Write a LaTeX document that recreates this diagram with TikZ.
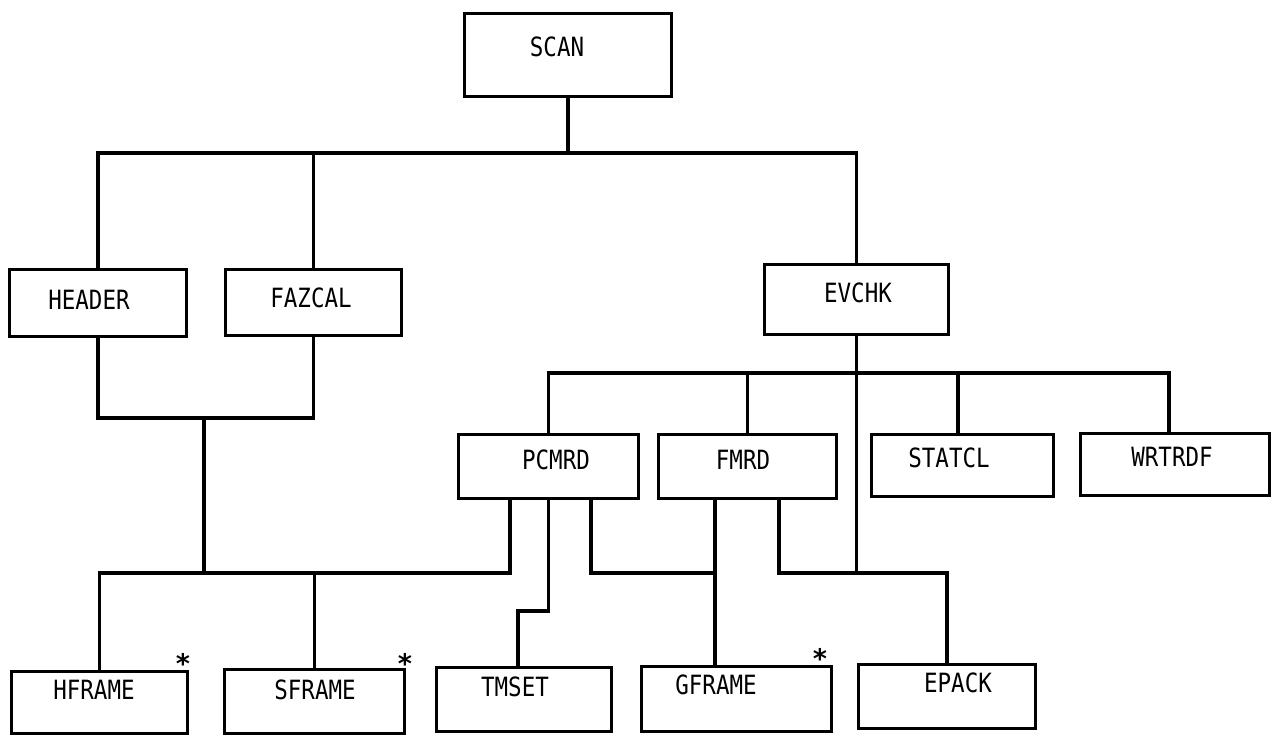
\documentclass[tikz,border=0pt]{standalone}
\usepackage{fontspec}
\newfontfamily\labfont[FakeStretch=0.85]{DejaVu Sans Mono}
\newfontfamily\starfont{DejaVu Sans Mono Bold}
\begin{document}
\begin{tikzpicture}[x=1pt,y=-1pt,
  box/.style={draw=black,line width=3.5pt,inner sep=0pt,fill=none},
  conn/.style={draw=black,line width=3.1pt,line cap=rect},
  lab/.style={inner sep=0pt,font=\labfont\fontsize{26.5}{30}\selectfont},
  starmark/.style={inner sep=0pt,anchor=base,font=\starfont\fontsize{27}{30}\selectfont}]
\useasboundingbox[fill=white] (0,0) rectangle (1279,736);
% boxes (outer edges measured, minus line width)
\node[box,minimum width=207pt,minimum height=83pt] (SCAN)   at (568,55) {};
\node[box,minimum width=177pt,minimum height=67pt] (HEADER) at (98,303) {};
\node[box,minimum width=176pt,minimum height=66pt] (FAZCAL) at (313.5,302.5) {};
\node[box,minimum width=184pt,minimum height=70pt] (EVCHK)  at (856.5,299.5) {};
\node[box,minimum width=180pt,minimum height=64pt] (PCMRD)  at (548.5,466.5) {};
\node[box,minimum width=178pt,minimum height=64pt] (FMRD)   at (747.5,466.5) {};
\node[box,minimum width=182pt,minimum height=62pt] (STATCL) at (962.5,465.5) {};
\node[box,minimum width=189pt,minimum height=62pt] (WRTRDF) at (1175,464.5) {};
\node[box,minimum width=176pt,minimum height=62pt] (HFRAME) at (99.5,702.5) {};
\node[box,minimum width=180pt,minimum height=64pt] (SFRAME) at (314.5,701.5) {};
\node[box,minimum width=175pt,minimum height=64pt] (TMSET)  at (524,699.5) {};
\node[box,minimum width=190pt,minimum height=65pt] (GFRAME) at (736.5,699) {};
\node[box,minimum width=177pt,minimum height=64pt] (EPACK)  at (947,696.5) {};
% labels
\node[lab] (tSCAN)   at (557,47)   {SCAN};
\node[lab] (tHEADER) at (89,300)   {HEADER};
\node[lab] (tFAZCAL) at (311,298)  {FAZCAL};
\node[lab] (tEVCHK)  at (858,293)  {EVCHK};
\node[lab] (tPCMRD)  at (556,460)  {PCMRD};
\node[lab] (tFMRD)   at (743,460)  {FMRD};
\node[lab] (tSTATCL) at (949,458)  {STATCL};
\node[lab] (tWRTRDF) at (1172,457) {WRTRDF};
\node[lab] (tHFRAME) at (94,690)   {HFRAME};
\node[lab] (tSFRAME) at (315,690)  {SFRAME};
\node[lab] (tTMSET)  at (515,687)  {TMSET};
\node[lab] (tGFRAME) at (716,685)  {GFRAME};
\node[lab] (tEPACK)  at (958,683)  {EPACK};
% stars
\node[starmark] (sH) at (183,673) {*};
\node[starmark] (sS) at (405,673) {*};
\node[starmark] (sG) at (820,668) {*};
% junction coordinates
\coordinate (jA) at (566,153);
\coordinate (jB) at (204,418);
\coordinate (jC) at (204,573);
\coordinate (jD) at (715,573);
\coordinate (jE) at (856,373);
\coordinate (pc1) at ([xshift=-38.5pt]PCMRD.south);
\coordinate (pc3) at ([xshift=42.5pt]PCMRD.south);
\coordinate (kTM) at (548,611);
\coordinate (tm)  at ([xshift=-6pt]TMSET.north);
\coordinate (fm1) at ([xshift=-32.5pt]FMRD.south);
\coordinate (fm2) at ([xshift=31.5pt]FMRD.south);
\coordinate (st)  at ([xshift=-4.5pt]STATCL.north);
\coordinate (wr)  at ([xshift=-6pt]WRTRDF.north);
% connectors
\draw[conn] (SCAN.south) -- (SCAN.south |- jA);
\draw[conn] (HEADER.north) |- (EVCHK.north |- jA) -- (EVCHK.north);
\draw[conn] (FAZCAL.north) -- (FAZCAL.north |- jA);
\draw[conn] (HEADER.south) |- (FAZCAL.south |- jB) -- (FAZCAL.south);
\draw[conn] (jB) -- (jC);
\draw[conn] (HFRAME.north) |- (pc1 |- jC) -- (pc1);
\draw[conn] (SFRAME.north) -- (SFRAME.north |- jC);
\draw[conn] (PCMRD.south) -- (PCMRD.south |- kTM) -| (tm);
\draw[conn] (pc3) |- (fm1 |- jD);
\draw[conn] (fm1) -- (fm1 |- GFRAME.north);
\draw[conn] (fm2) |- (EPACK.north |- jD) -- (EPACK.north);
\draw[conn] (EVCHK.south) -- (EVCHK.south |- jD);
\draw[conn] (PCMRD.north) |- (wr |- jE) -- (wr);
\draw[conn] (FMRD.north) -- (FMRD.north |- jE);
\draw[conn] (st) -- (st |- jE);
\end{tikzpicture}
\end{document}
